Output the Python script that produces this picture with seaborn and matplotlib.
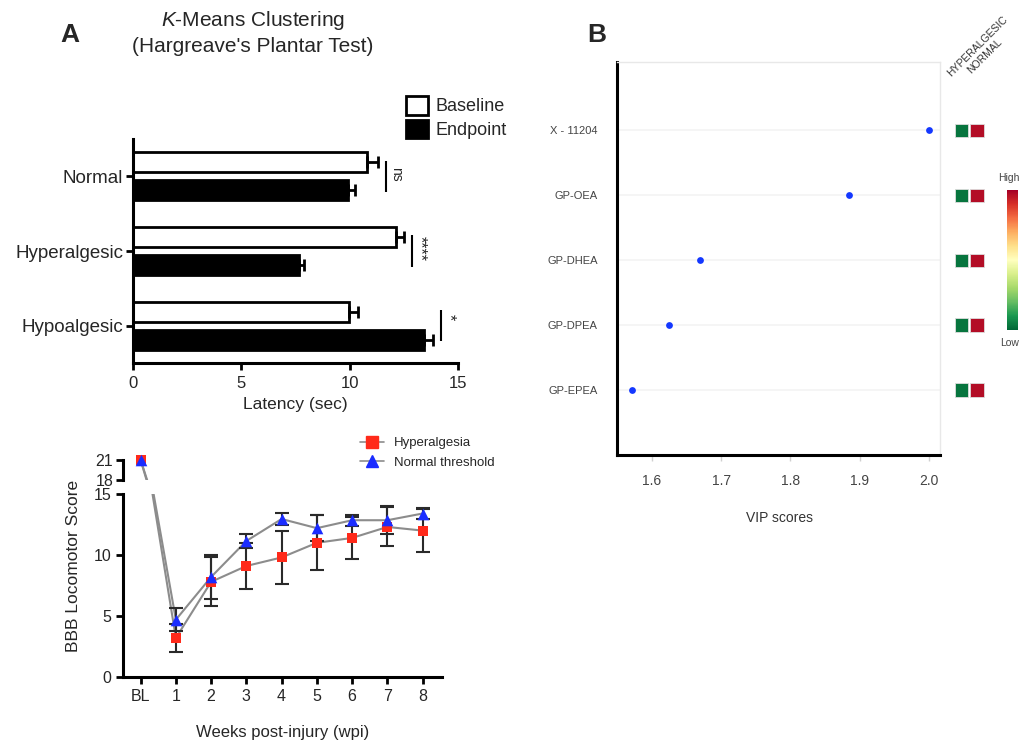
import numpy as np
import pandas as pd
import matplotlib
matplotlib.use("Agg")
import matplotlib.pyplot as plt
import seaborn as sns
from matplotlib.patches import Patch
from matplotlib.lines import Line2D
from matplotlib.cm import ScalarMappable
from matplotlib.colors import Normalize

# ---------------- data ----------------
# Panel A (top): Hargreave's plantar test latency
groups = ["Normal", "Hyperalgesic", "Hypoalgesic"]
conditions = ["Baseline", "Endpoint"]
baseline_mean = [10.8, 12.15, 9.95]
baseline_sem = [0.5, 0.35, 0.45]
endpoint_mean = [9.9, 7.65, 13.45]
endpoint_sem = [0.35, 0.25, 0.4]
sig_labels = ["ns", "****", "*"]

# Panel A (bottom): BBB locomotor score
weeks = ["BL", "1", "2", "3", "4", "5", "6", "7", "8"]
hyper_mean = [21, 3.2, 7.8, 9.1, 9.8, 11.0, 11.4, 12.3, 12.0]
hyper_err = [0, 1.15, 2.0, 1.9, 2.15, 2.25, 1.7, 1.6, 1.75]
normal_mean = [21, 4.7, 8.2, 11.15, 12.95, 12.2, 12.85, 12.85, 13.4]
normal_err = [0, 0.95, 1.8, 0.55, 0.5, 1.05, 0.45, 1.15, 0.45]
series_names = ["Hyperalgesia", "Normal threshold"]

# Panel B: VIP scores
features = ["X - 11204", "GP-OEA", "GP-DHEA", "GP-DPEA", "GP-EPEA"]
vip = [2.0, 1.884, 1.670, 1.624, 1.571]
heat_cols = ["HYPERALGESIC", "NORMAL"]
hyper_level = [0.03, 0.03, 0.03, 0.03, 0.03]
normal_level = [0.97, 0.97, 0.97, 0.97, 0.97]

# ---------------- style ----------------
sns.set_theme(style="ticks")
plt.rcParams["font.family"] = ["Liberation Sans", "DejaVu Sans"]
plt.rcParams["mathtext.fontset"] = "custom"
plt.rcParams["mathtext.rm"] = "Liberation Sans"
plt.rcParams["mathtext.it"] = "Liberation Sans:italic"

W, H = 1021, 747
fig = plt.figure(figsize=(W / 100, H / 100), dpi=100)
fig.patch.set_facecolor("white")


def rect(x0, y0, x1, y1):
    return [x0 / W, 1 - y1 / H, (x1 - x0) / W, (y1 - y0) / H]


def fx(x):
    return x / W


def fy(y):
    return 1 - y / H


# ================= Panel A top: bar chart =================
axA = fig.add_axes(rect(133, 139, 458, 363))
dfA = pd.DataFrame({
    "group": groups * 2,
    "condition": ["Baseline"] * len(groups) + ["Endpoint"] * len(groups),
    "latency": baseline_mean + endpoint_mean,
})
sns.barplot(data=dfA, x="latency", y="group", hue="condition", order=groups,
            hue_order=conditions, orient="h",
            palette={"Baseline": "white", "Endpoint": "black"},
            edgecolor="black", linewidth=2, width=0.75, gap=0.28,
            errorbar=None, legend=False, ax=axA)

errs = {"Baseline": baseline_sem, "Endpoint": endpoint_sem}
tops = [0.0] * len(groups)
for p in axA.patches:
    yc = p.get_y() + p.get_height() / 2
    gi = int(round(yc))
    cond = "Baseline" if yc < gi else "Endpoint"
    val = p.get_width()
    e = errs[cond][gi]
    axA.errorbar(val, yc, xerr=[[0], [e]], fmt="none", ecolor="black",
                 elinewidth=2, capsize=4.5, capthick=2, zorder=5)
    tops[gi] = max(tops[gi], val + e)

for gi, lab in enumerate(sig_labels):
    bx = tops[gi] + 0.38
    axA.plot([bx, bx], [gi - 0.21, gi + 0.21], color="black", lw=1.5,
             solid_capstyle="butt")
    if lab == "ns":
        axA.text(bx + 0.12, gi - 0.03, lab, rotation=-90, ha="left",
                 va="center", fontsize=10)
    else:
        axA.text(bx + 0.02, gi - 0.03 - (0.08 if len(lab) == 1 else 0), lab,
                 rotation=-90, ha="left", va="center", fontsize=11.5)

axA.set_xlim(0, 15)
axA.set_ylim(2.5, -0.5)
axA.set_xticks([0, 5, 10, 15])
axA.set_xlabel("Latency (sec)", fontsize=12.5, labelpad=5)
axA.set_ylabel("")
sns.despine(ax=axA)
for s in ["left", "bottom"]:
    axA.spines[s].set_linewidth(2.2)
    axA.spines[s].set_color("black")
axA.tick_params(axis="both", direction="out", length=5, width=2, color="black")
axA.tick_params(axis="y", labelsize=13.5, pad=2)
axA.tick_params(axis="x", labelsize=12, pad=4)

fig.text(fx(253), fy(20), "$K$-Means Clustering", ha="center", va="center",
         fontsize=15)
fig.text(fx(253), fy(47), "(Hargreave's Plantar Test)", ha="center",
         va="center", fontsize=15)
fig.text(fx(70), fy(35), "A", ha="center", va="center", fontsize=19,
         fontweight="bold")

bar_handles = [Patch(facecolor="white", edgecolor="black", linewidth=2),
               Patch(facecolor="black", edgecolor="black", linewidth=2)]
fig.legend(bar_handles, conditions, loc="upper left",
           bbox_to_anchor=(fx(406), fy(96)), frameon=False, fontsize=13,
           handlelength=1.2, handleheight=1.2, handletextpad=0.45,
           labelspacing=0.25, borderaxespad=0, borderpad=0)

# ================= Panel A bottom: BBB line chart (broken axis) =================
axL = fig.add_axes(rect(123, 494, 442, 677))
axU = fig.add_axes(rect(123, 460, 442, 480))
xpos = np.arange(len(weeks))
colors = {"Hyperalgesia": "#ff2a1a", "Normal threshold": "#1a2cff"}
markers = {"Hyperalgesia": "s", "Normal threshold": "^"}
sizes = {"Hyperalgesia": 60, "Normal threshold": 70}
data_series = {"Hyperalgesia": (hyper_mean, hyper_err),
               "Normal threshold": (normal_mean, normal_err)}

for ax, upper in [(axL, False), (axU, True)]:
    lo, hi = (18, 21) if upper else (0, 15)
    for name in series_names:
        m, e = data_series[name]
        df = pd.DataFrame({"x": xpos, "score": m})
        sns.lineplot(data=df, x="x", y="score", color="#8c8c8c", lw=1.5,
                     sort=False, ax=ax, zorder=2)
        if not upper:
            ax.errorbar(xpos[1:], m[1:], yerr=e[1:], fmt="none",
                        ecolor="#2a2a2a", elinewidth=1.5, capsize=5,
                        capthick=1.5, zorder=3)
    for name in series_names:
        m, e = data_series[name]
        df = pd.DataFrame({"x": xpos, "score": m})
        df = df[(df["score"] >= lo) & (df["score"] <= hi)]
        sns.scatterplot(data=df, x="x", y="score", color=colors[name],
                        marker=markers[name], s=sizes[name],
                        linewidth=0, ax=ax, zorder=6, legend=False)
    if upper:
        for coll in ax.collections:
            coll.set_clip_on(False)
    ax.set_xlim(-0.5, 8.55)
    ax.set_xlabel("")
    ax.set_ylabel("")

axL.set_ylim(0, 15)
axL.set_yticks([0, 5, 10, 15])
axL.set_xticks(xpos)
axL.set_xticklabels(weeks)
sns.despine(ax=axL)
for s in ["left", "bottom"]:
    axL.spines[s].set_linewidth(2.2)
    axL.spines[s].set_color("black")
axL.tick_params(axis="both", direction="out", length=5, width=2,
                color="black", labelsize=11.5)

axU.set_ylim(18, 21)
axU.set_yticks([18, 21])
axU.set_xticks([])
for s in ["top", "right", "bottom"]:
    axU.spines[s].set_visible(False)
axU.spines["left"].set_linewidth(2.2)
axU.spines["left"].set_color("black")
axU.tick_params(axis="y", direction="out", length=5, width=2,
                color="black", labelsize=11.5, pad=2)
axU.patch.set_alpha(0)

fig.text(fx(73), fy(566), "BBB Locomotor Score", rotation=90, ha="center",
         va="center", fontsize=12.5)
fig.text(fx(283), fy(733), "Weeks post-injury (wpi)", ha="center",
         va="center", fontsize=12)

line_handles = [Line2D([0], [0], color="#8c8c8c", lw=1.2,
                       marker=markers[n], markersize=8,
                       markerfacecolor=colors[n], markeredgecolor=colors[n])
                for n in series_names]
fig.legend(line_handles, series_names, loc="upper left",
           bbox_to_anchor=(fx(360), fy(437)), frameon=False, fontsize=9.5,
           handlelength=1.8, handletextpad=0.8, labelspacing=0.55,
           borderaxespad=0, borderpad=0)

# ================= Panel B: VIP scores =================
axB = fig.add_axes(rect(617, 62, 940, 455))
ypos = np.arange(len(features))
dfB = pd.DataFrame({"vip": vip, "y": ypos})
sns.scatterplot(data=dfB, x="vip", y="y", color="#1438ff", s=24,
                linewidth=0, ax=axB, zorder=5, legend=False)
axB.set_ylim(5.0, -1.05)
axB.set_xlim(1.5495, 2.016)
axB.set_yticks(ypos)
axB.set_yticklabels(features)
axB.set_xticks([1.6, 1.7, 1.8, 1.9, 2.0])
axB.set_xticklabels(["1.6", "1.7", "1.8", "1.9", "2.0"])
axB.set_xlabel("")
axB.set_ylabel("")
for y in ypos:
    axB.axhline(y, color="#f3f3f3", lw=1.2, zorder=1)
for s in ["top", "right"]:
    axB.spines[s].set_color("#e8e8e8")
    axB.spines[s].set_linewidth(1)
for s in ["left", "bottom"]:
    axB.spines[s].set_color("black")
    axB.spines[s].set_linewidth(2.2)
axB.tick_params(axis="x", direction="out", length=4, width=1,
                color="#d0d0d0", labelsize=10, labelcolor="#444444", pad=10)
axB.tick_params(axis="y", length=0, labelsize=8, labelcolor="#444444", pad=14)
fig.text(fx(779), fy(518), "VIP scores", ha="center", va="center",
         fontsize=10, color="#333333")
fig.text(fx(597), fy(35), "B", ha="center", va="center", fontsize=19,
         fontweight="bold")

# heatmap squares
axH = fig.add_axes(rect(948, 62, 992, 455))
dfH = pd.DataFrame({
    "col": [0] * len(features) + [1] * len(features),
    "y": list(ypos) * 2,
    "level": hyper_level + normal_level,
})
sns.scatterplot(data=dfH, x="col", y="y", hue="level", palette="RdYlGn_r",
                hue_norm=(0, 1), marker="s", s=90, linewidth=0.6,
                edgecolor="#dddddd", legend=False, ax=axH)
axH.set_xlim(-0.87, 1.97)
axH.set_ylim(5.0, -1.05)
axH.axis("off")

fig.text(fx(951), fy(77), heat_cols[0], rotation=45, rotation_mode="anchor",
         ha="left", va="baseline", fontsize=7.5, color="#333333")
fig.text(fx(971), fy(74), heat_cols[1], rotation=45, rotation_mode="anchor",
         ha="left", va="baseline", fontsize=7.5, color="#333333")

# colorbar
cax = fig.add_axes(rect(1007, 190, 1018, 330))
sm = ScalarMappable(norm=Normalize(0, 1), cmap="RdYlGn_r")
cb = fig.colorbar(sm, cax=cax, ticks=[])
cb.outline.set_visible(False)
fig.text(fx(998), fy(178), "High", ha="left", va="center", fontsize=7.5,
         color="#444444")
fig.text(fx(1000), fy(343), "Low", ha="left", va="center", fontsize=7.5,
         color="#444444")

fig.savefig("out.png", dpi=100)
